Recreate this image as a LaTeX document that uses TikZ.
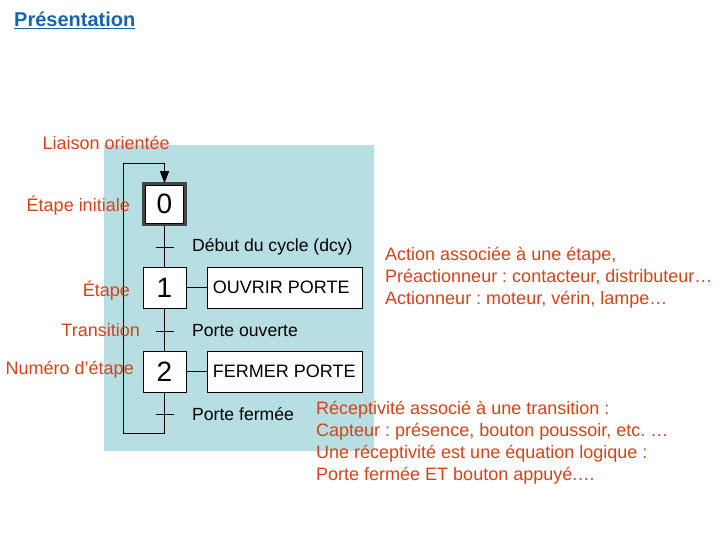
\documentclass[tikz,border=0pt]{standalone}
\usepackage{fontspec}
\setmainfont{Liberation Sans}
\usetikzlibrary{arrows.meta}
\definecolor{panel}{RGB}{183,222,226}
\definecolor{redlbl}{RGB}{214,66,24}
\definecolor{titleblue}{RGB}{24,100,170}
\frenchspacing
\newcommand{\actlbl}[1]{\makebox[143pt][l]{#1}}
\begin{document}
\begin{tikzpicture}[x=1pt,y=-1pt,
  stepbox/.style={draw=black,fill=white,line width=0.9pt,minimum width=43pt,minimum height=41pt,inner sep=0pt,font=\fontsize{28}{30}\selectfont},
  actbox/.style={draw=black,fill=white,line width=0.9pt,inner xsep=6pt,inner ysep=0pt,minimum height=41pt,font=\fontsize{18}{20}\selectfont},
  trlbl/.style={anchor=west,inner sep=0pt,font=\fontsize{17.6}{20}\selectfont},
  redtxt/.style={text=redlbl,inner sep=0pt,font=\fontsize{18}{22}\selectfont,align=left},
  link/.style={line width=0.9pt,draw=black}]
\useasboundingbox (0,0) rectangle (720,540);
\fill[panel] (104,145) rectangle (374,451);
% title
\node[anchor=west,inner sep=0pt,text=titleblue,font=\fontsize{20}{22}\selectfont\bfseries] (title) at (14,20) {\underline{Présentation}};
% steps
\node[stepbox,draw=gray!55!black,line width=2.6pt,minimum width=41.5pt,minimum height=41.5pt] (s0) at (164.5,204.3) {};
\node[stepbox,minimum width=38pt,minimum height=38pt,line width=0.8pt] (s0in) at (164.5,204.3) {0};
\node[stepbox] (s1) at (164.5,287.5) {1};
\node[stepbox] (s2) at (164.5,371.5) {2};
\node[actbox,anchor=west] (a1) at (206.5,287.5) {\actlbl{OUVRIR PORTE}};
\node[actbox,anchor=west] (a2) at (206.5,371.5) {\actlbl{FERMER PORTE}};
% links
\coordinate (t0) at (164.5,247);
\coordinate (t1) at (164.5,331);
\coordinate (t2) at (164.5,414);
\coordinate (lb) at (164.5,433);
\coordinate (bl) at (123,433);
\coordinate (tl) at (123,163);
\coordinate (tr) at (164.5,163);
\draw[link] (s0.south) -- (s1.north);
\draw[link] (s1.south) -- (s2.north);
\draw[link] (s2.south) -- (lb) -- (bl) -- (tl) -- (tr);
\draw[link,-{Triangle[length=12pt,width=9pt]}] (tr) -- ([yshift=-1pt]s0.north);
\draw[link] (s1.east) -- (a1.west);
\draw[link] (s2.east) -- (a2.west);
\foreach \t in {t0,t1,t2} \draw[link] ([xshift=-9pt]\t) -- ([xshift=9pt]\t);
% transition labels
\node[trlbl] (r0) at (192,247) {Début du cycle (dcy)};
\node[trlbl] (r1) at (192,331) {Porte ouverte};
\node[trlbl] (r2) at (192,414) {Porte fermée};
% red labels
\node[redtxt,anchor=east] (l1) at (170,143) {Liaison orientée};
\node[redtxt,anchor=east] (l2) at (130,206) {Étape initiale};
\node[redtxt,anchor=east] (l3) at (130,291) {Étape};
\node[redtxt,anchor=east] (l4) at (140,330) {Transition};
\node[redtxt,anchor=east] (l5) at (134,370) {Numéro d’étape};
\node[redtxt,anchor=west] (l6) at (385,278) {Action associée à une étape,\\Préactionneur : contacteur, distributeur…\\Actionneur : moteur, vérin, lampe…};
\node[redtxt,anchor=west] (l7) at (316,442.5) {Réceptivité associé à une transition :\\Capteur : présence, bouton poussoir, etc. …\\Une réceptivité est une équation logique :\\Porte fermée ET bouton appuyé.…};
\end{tikzpicture}
\end{document}
